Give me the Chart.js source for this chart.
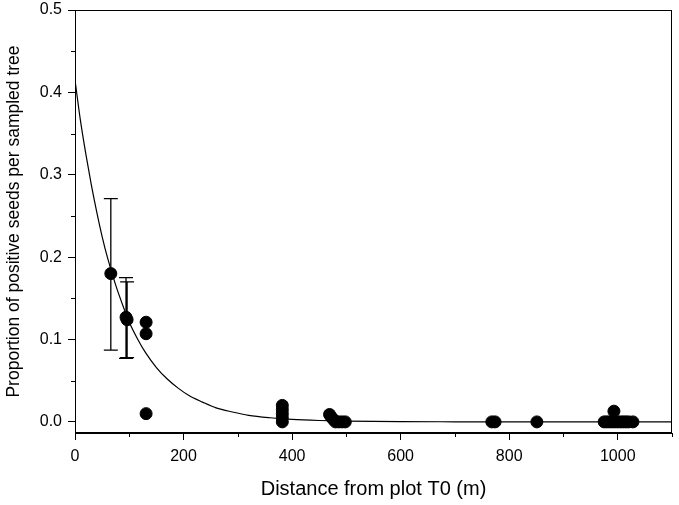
<!DOCTYPE html>
<html>
<head>
<meta charset="utf-8">
<script src="https://cdn.jsdelivr.net/npm/chart.js@4/dist/chart.umd.min.js"></script>
<style>
html,body{margin:0;padding:0;background:#fff;}
#wrap{width:679px;height:505px;position:relative;}
</style>
</head>
<body>
<div id="wrap"><canvas id="c" width="679" height="505"></canvas></div>
<script>
// Observed points (distance m, proportion)
const distX = [66, 94, 96, 131, 131, 131,
  382, 382, 382, 382, 382,
  469, 472, 476, 480, 486, 492, 498,
  768, 774, 851,
  975, 980, 985, 990, 993, 995, 1000, 1005, 1010, 1015, 1020, 1028];
const propY = [0.180, 0.127, 0.124, 0.121, 0.107, 0.010,
  0.000, 0.005, 0.010, 0.015, 0.020,
  0.009, 0.006, 0.003, 0.000, 0.000, 0.000, 0.000,
  0.000, 0.000, 0.000,
  0.000, 0.000, 0.000, 0.000, 0.013, 0.000, 0.000, 0.000, 0.000, 0.000, 0.000, 0.000];
// Error bars (only first three points)
const errX    = [66, 94, 96];
const errLow  = [0.087, 0.077, 0.078];
const errHigh = [0.271, 0.175, 0.170];
// Fitted curve
const fitX = [0, 10, 20, 30, 40, 50, 60, 75, 90, 100, 115, 130, 150, 170, 190, 210, 235, 260, 290, 320, 360, 400, 450, 500, 600, 700, 800, 1100];
const fitY = [0.415, 0.366, 0.325, 0.288, 0.255, 0.225, 0.199, 0.166, 0.138, 0.121, 0.101, 0.084, 0.066, 0.052, 0.041, 0.032, 0.024, 0.017, 0.012, 0.008, 0.005, 0.003, 0.0017, 0.001, 0.0003, 0.0001, 0.0, 0.0];
const xTicks = [0, 200, 400, 600, 800, 1000];
const yTicks = [0.0, 0.1, 0.2, 0.3, 0.4, 0.5];

const FONT = "'Liberation Sans', Arial, sans-serif";

const framePlugin = {
  id: 'frame',
  afterDraw(chart) {
    const {ctx, chartArea: a, scales: {x, y}} = chart;
    ctx.save();
    ctx.strokeStyle = '#000';
    ctx.lineWidth = 1;
    ctx.strokeRect(a.left + 0.5, a.top + 0.5, a.right - a.left - 1, a.bottom - a.top - 1);
    // minor ticks
    ctx.beginPath();
    for (let v = 100; v <= 1100; v += 200) {
      const px = Math.round(x.getPixelForValue(v)) + 0.5;
      ctx.moveTo(px, a.bottom); ctx.lineTo(px, a.bottom + 4);
    }
    for (let v = 0.05; v < 0.5; v += 0.1) {
      const py = Math.round(y.getPixelForValue(v)) + 0.5;
      ctx.moveTo(a.left, py); ctx.lineTo(a.left - 4, py);
    }
    ctx.stroke();
    // error bars
    ctx.beginPath();
    ctx.lineWidth = 1.3;
    for (let i = 0; i < errX.length; i++) {
      const px = x.getPixelForValue(errX[i]);
      const lo = y.getPixelForValue(errLow[i]);
      const hi = y.getPixelForValue(errHigh[i]);
      ctx.moveTo(px, lo); ctx.lineTo(px, hi);
      ctx.moveTo(px - 7, lo); ctx.lineTo(px + 7, lo);
      ctx.moveTo(px - 7, hi); ctx.lineTo(px + 7, hi);
    }
    ctx.stroke();
    ctx.restore();
  }
};

new Chart(document.getElementById('c'), {
  type: 'scatter',
  data: {
    datasets: [
      {
        data: distX.map((v, i) => ({x: v, y: propY[i]})),
        backgroundColor: '#000', borderColor: '#000',
        pointRadius: 6, pointHoverRadius: 6, order: 2
      },
      {
        type: 'line',
        data: fitX.map((v, i) => ({x: v, y: fitY[i]})),
        borderColor: '#000', borderWidth: 1.2, pointRadius: 0,
        cubicInterpolationMode: 'monotone', fill: false, order: 1
      }
    ]
  },
  options: {
    responsive: false, animation: false,
    layout: {padding: {top: 10, right: 4, left: 0, bottom: 0}},
    plugins: {legend: {display: false}, tooltip: {enabled: false}},
    scales: {
      x: {
        type: 'linear', min: 0, max: 1100,
        afterBuildTicks(s) { s.ticks = xTicks.map(v => ({value: v})); },
        afterFit(s) { s.height = 72; s.paddingRight = 0; s.paddingLeft = 0; },
        grid: {display: true, drawOnChartArea: false, drawTicks: true, tickLength: 7, color: '#000'},
        border: {color: '#000'},
        ticks: {color: '#000', font: {family: FONT, size: 16}, padding: 7, maxRotation: 0, callback: v => String(v)},
        title: {display: true, text: 'Distance from plot T0 (m)', color: '#000', font: {family: FONT, size: 20}, padding: {top: 8}}
      },
      y: {
        type: 'linear', min: -0.0135, max: 0.5,
        afterBuildTicks(s) { s.ticks = yTicks.map(v => ({value: v})); },
        afterFit(s) { s.width = 75; s.paddingTop = 0; s.paddingBottom = 0; },
        grid: {display: true, drawOnChartArea: false, drawTicks: true, tickLength: 7, color: '#000'},
        border: {color: '#000'},
        ticks: {color: '#000', font: {family: FONT, size: 16}, padding: 6, callback: v => v.toFixed(1)},
        title: {display: true, text: 'Proportion of positive seeds per sampled tree', color: '#000', font: {family: FONT, size: 17.5}, padding: {bottom: 4}}
      }
    }
  },
  plugins: [framePlugin]
});
</script>
</body>
</html>
